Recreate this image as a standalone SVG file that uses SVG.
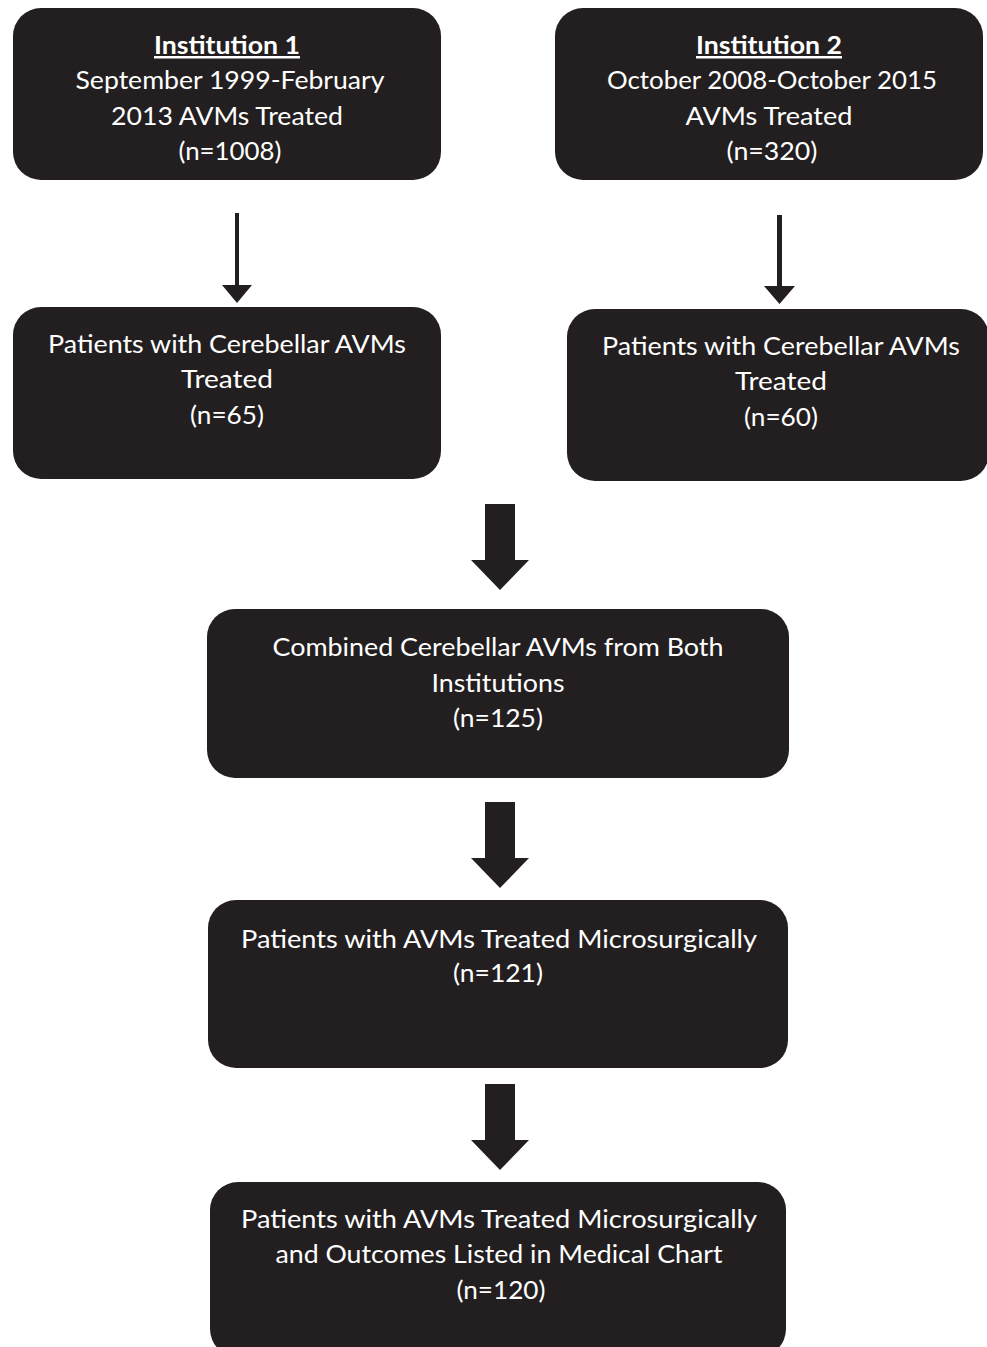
<svg xmlns="http://www.w3.org/2000/svg" width="987" height="1347" viewBox="0 0 987 1347">
<style>
.box{fill:#231f20;}
.t{font-family:"Lato","Open Sans","Liberation Sans",sans-serif;font-size:25px;fill:#ffffff;text-anchor:middle;}
.b{font-weight:bold;text-decoration:underline;}
.arr{fill:#231f20;}
</style>
<rect width="987" height="1347" fill="#ffffff"/>
<g id="connectors">
<polygon class="arr" points="235,213 239,213 239,285 252,285 237,303 222,285 235,285"/>
<polygon class="arr" points="777,215 782,215 782,286 795,286 779.5,304 764,286 777,286"/>
<polygon class="arr" points="485,504 515,504 515,560 529,560 500,590 471,560 485,560"/>
<polygon class="arr" points="485,802 515,802 515,858 529,858 500,888 471,858 485,858"/>
<polygon class="arr" points="485,1084 515,1084 515,1140 529,1140 500,1170 471,1140 485,1140"/>
</g>
<g id="n1">
<rect class="box" x="13" y="8" width="428" height="172" rx="28"/>
<text class="t b" x="227" y="54" textLength="146" lengthAdjust="spacingAndGlyphs">Institution 1</text>
<text class="t" x="230" y="89" textLength="309" lengthAdjust="spacingAndGlyphs">September 1999-February</text>
<text class="t" x="227" y="125" textLength="232" lengthAdjust="spacingAndGlyphs">2013 AVMs Treated</text>
<text class="t" x="230" y="160" textLength="103" lengthAdjust="spacingAndGlyphs">(n=1008)</text>
</g>
<g id="n2">
<rect class="box" x="555" y="8" width="428" height="172" rx="28"/>
<text class="t b" x="769" y="54" textLength="146" lengthAdjust="spacingAndGlyphs">Institution 2</text>
<text class="t" x="772" y="89" textLength="330" lengthAdjust="spacingAndGlyphs">October 2008-October 2015</text>
<text class="t" x="769" y="125" textLength="167" lengthAdjust="spacingAndGlyphs">AVMs Treated</text>
<text class="t" x="772" y="160" textLength="91" lengthAdjust="spacingAndGlyphs">(n=320)</text>
</g>
<g id="n3">
<rect class="box" x="13" y="307" width="428" height="172" rx="28"/>
<text class="t" x="227" y="353" textLength="358" lengthAdjust="spacingAndGlyphs">Patients with Cerebellar AVMs</text>
<text class="t" x="227" y="388" textLength="92" lengthAdjust="spacingAndGlyphs">Treated</text>
<text class="t" x="227" y="424" textLength="74" lengthAdjust="spacingAndGlyphs">(n=65)</text>
</g>
<g id="n4">
<rect class="box" x="567" y="309" width="422" height="172" rx="28"/>
<text class="t" x="781" y="355" textLength="358" lengthAdjust="spacingAndGlyphs">Patients with Cerebellar AVMs</text>
<text class="t" x="781" y="390" textLength="92" lengthAdjust="spacingAndGlyphs">Treated</text>
<text class="t" x="781" y="426" textLength="74" lengthAdjust="spacingAndGlyphs">(n=60)</text>
</g>
<g id="n5">
<rect class="box" x="207" y="609" width="582" height="169" rx="28"/>
<text class="t" x="498" y="656" textLength="451" lengthAdjust="spacingAndGlyphs">Combined Cerebellar AVMs from Both</text>
<text class="t" x="498" y="692" textLength="133" lengthAdjust="spacingAndGlyphs">Institutions</text>
<text class="t" x="498" y="727" textLength="90" lengthAdjust="spacingAndGlyphs">(n=125)</text>
</g>
<g id="n6">
<rect class="box" x="208" y="900" width="580" height="168" rx="28"/>
<text class="t" x="499" y="948" textLength="516" lengthAdjust="spacingAndGlyphs">Patients with AVMs Treated Microsurgically</text>
<text class="t" x="498" y="982" textLength="90" lengthAdjust="spacingAndGlyphs">(n=121)</text>
</g>
<g id="n7">
<rect class="box" x="210" y="1182" width="576" height="175" rx="28"/>
<text class="t" x="499" y="1228" textLength="516" lengthAdjust="spacingAndGlyphs">Patients with AVMs Treated Microsurgically</text>
<text class="t" x="499" y="1263" textLength="447" lengthAdjust="spacingAndGlyphs">and Outcomes Listed in Medical Chart</text>
<text class="t" x="501" y="1299" textLength="89" lengthAdjust="spacingAndGlyphs">(n=120)</text>
</g>
</svg>
